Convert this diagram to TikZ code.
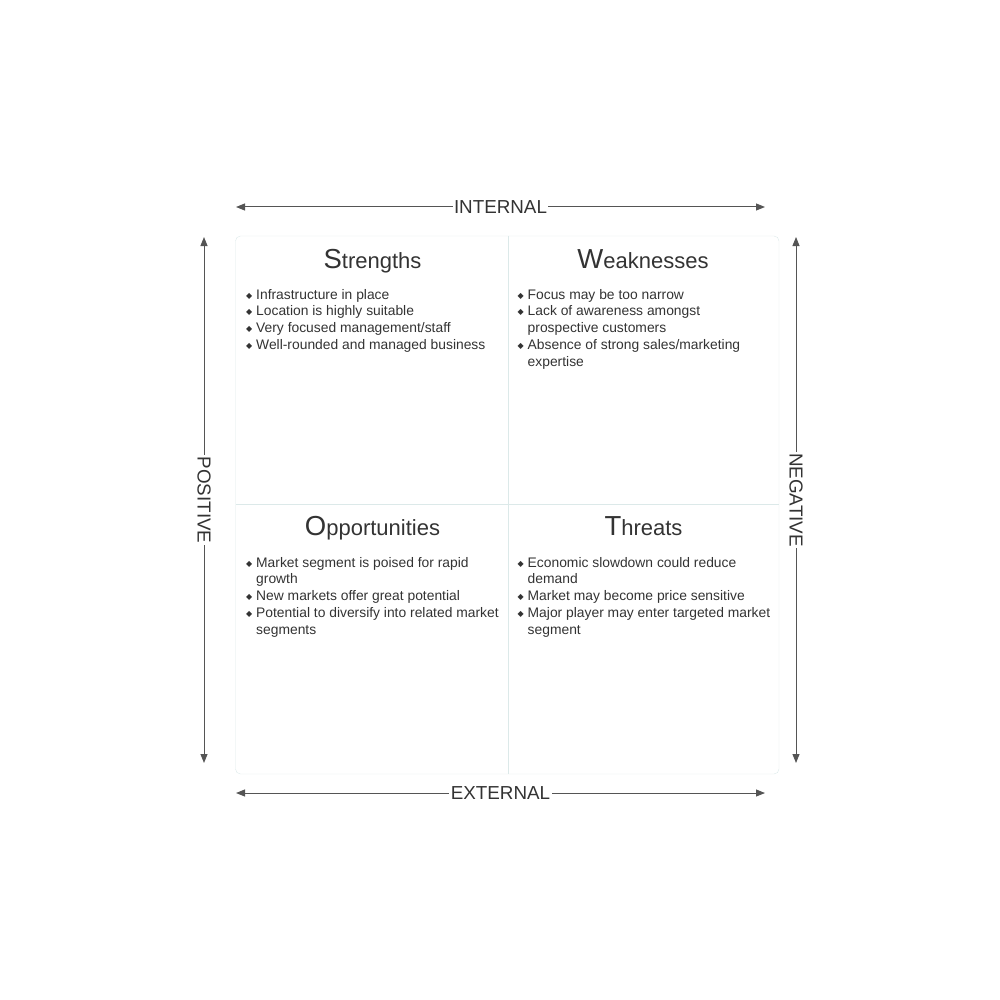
\documentclass[tikz,border=0pt]{standalone}
\usepackage{fontspec}
\setmainfont{Liberation Sans}
\newfontfamily\symfont{DejaVu Sans}
\usetikzlibrary{arrows.meta}

\definecolor{axisgray}{HTML}{555555}
\definecolor{textgray}{HTML}{333333}
\definecolor{gridline}{HTML}{DCE9E9}

% bullet and hanging indent for the lists
\newcommand\itm{\makebox[10pt][l]{\raisebox{1pt}{\symfont\fontsize{8}{8}\selectfont ◆}}}
\newcommand\cont{\hspace*{10pt}}
% title with a larger first letter
\newcommand\swottitle[2]{{\fontsize{27.5}{27.5}\selectfont #1}{\fontsize{22}{22}\selectfont #2}}

\tikzset{
  axis/.style={draw=axisgray, line width=1pt,
    {Triangle[length=9pt,width=7pt]}-{Triangle[length=9pt,width=7pt]}},
  axislabel/.style={fill=white, inner sep=1.5pt, text=textgray,
    font=\fontsize{18.8}{18.8}\selectfont},
  quadtitle/.style={anchor=base, inner sep=0pt, text=textgray},
  quadlist/.style={anchor=north west, align=left, inner sep=0pt, text=textgray,
    font=\fontsize{13.85}{16.7}\selectfont},
}

\begin{document}
\begin{tikzpicture}[x=1pt,y=-1pt]
\def\XL{235.5}
\def\XM{508.5}
\def\XR{779}
\def\YT{236}
\def\YM{504}
\def\YB{774}
\useasboundingbox (0,0) rectangle (1000,1000);

% grid
\draw[gridline, rounded corners=5pt] (\XL,\YT) rectangle (\XR,\YB);
\draw[gridline] (\XM,\YT) -- (\XM,\YB);
\draw[gridline] (\XL,\YM) -- (\XR,\YM);

% axes
\coordinate (in-l) at (236,207);
\coordinate (in-r) at (765,207);
\coordinate (ex-l) at (236,793);
\coordinate (ex-r) at (765,793);
\coordinate (po-t) at (204,237);
\coordinate (po-b) at (204,763);
\coordinate (ne-t) at (796,237);
\coordinate (ne-b) at (796,763);

\draw[axis] (in-l) -- (in-r) node[midway, axislabel] (internal) {INTERNAL};
\draw[axis] (ex-l) -- (ex-r) node[midway, axislabel] (external) {EXTERNAL};
\draw[axis] (po-t) -- (po-b) node[midway, axislabel, rotate=-90] (positive) {POSITIVE};
\draw[axis] (ne-t) -- (ne-b) node[midway, axislabel, rotate=-90] (negative) {NEGATIVE};

% titles
\node[quadtitle] (s-title) at (372.5,268.5) {\swottitle{S}{trengths}};
\node[quadtitle] (w-title) at (643,268.5) {\swottitle{W}{eaknesses}};
\node[quadtitle] (o-title) at (372.5,535.5) {\swottitle{O}{pportunities}};
\node[quadtitle] (t-title) at (643.5,535.5) {\swottitle{T}{hreats}};

% lists
\node[quadlist] (s-list) at (246,289) {%
  \itm Infrastructure in place\\
  \itm Location is highly suitable\\
  \itm Very focused management/staff\\
  \itm Well-rounded and managed business};
\node[quadlist] (w-list) at (517.5,289) {%
  \itm Focus may be too narrow\\
  \itm Lack of awareness amongst\\
  \cont prospective customers\\
  \itm Absence of strong sales/marketing\\
  \cont expertise};
\node[quadlist] (o-list) at (246,557) {%
  \itm Market segment is poised for rapid\\
  \cont growth\\
  \itm New markets offer great potential\\
  \itm Potential to diversify into related market\\
  \cont segments};
\node[quadlist] (t-list) at (517.5,557) {%
  \itm Economic slowdown could reduce\\
  \cont demand\\
  \itm Market may become price sensitive\\
  \itm Major player may enter targeted market\\
  \cont segment};
\end{tikzpicture}
\end{document}
